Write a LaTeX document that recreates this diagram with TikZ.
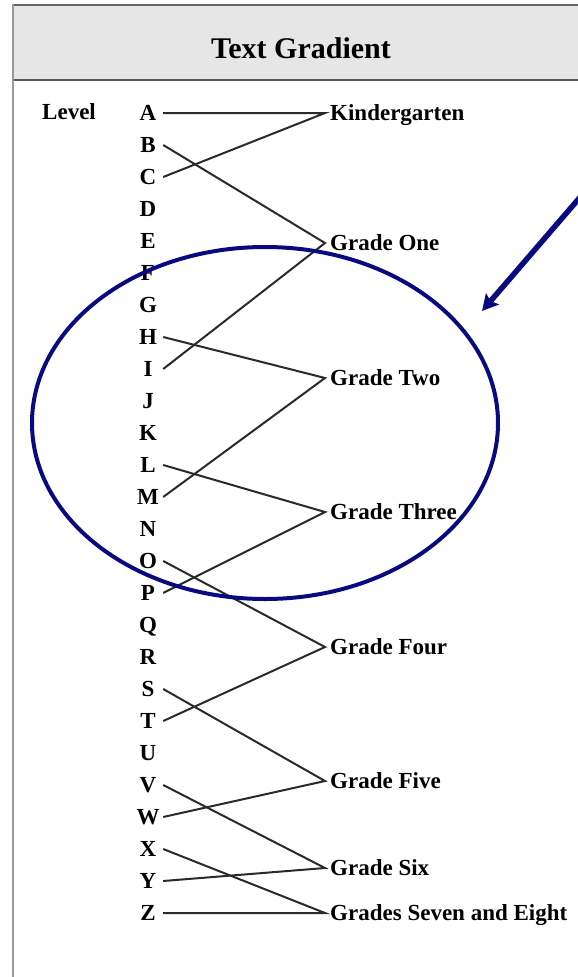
\documentclass[tikz,border=0pt]{standalone}
\usepackage{fontspec}
\setmainfont{Liberation Serif}
\usetikzlibrary{arrows.meta}
\definecolor{navyc}{HTML}{0A0A80}
\definecolor{headfill}{HTML}{E6E6E6}
\definecolor{linec}{HTML}{2A2A2A}
\tikzset{
  letter/.style={font=\fontsize{23}{23}\selectfont\bfseries, inner sep=0pt, minimum width=30pt, text height=15pt, text depth=0pt, anchor=center},
  grade/.style={font=\fontsize{23}{23}\selectfont\bfseries, inner xsep=5pt, inner ysep=0pt, text height=15pt, text depth=0pt, anchor=west},
  conn/.style={draw=linec, line width=2pt},
  frame/.style={line width=2pt},
}
\begin{document}
\begin{tikzpicture}[x=1pt,y=-1pt]
\useasboundingbox (0,0) rectangle (578,977);
% header
\fill[headfill] (13,5) rectangle (578,80);
\draw[frame, draw=black!60] (13,5) -- (578,5);
\draw[frame, draw=black!65] (13,80) -- (578,80);
\draw[line width=2.5pt, draw=black!40] (13,4) -- (13,977);
\node[font=\fontsize{30}{30}\selectfont\bfseries, inner sep=0pt, text height=20pt, text depth=0pt] (title) at (301,48) {Text Gradient};
\node[font=\fontsize{23}{23}\selectfont\bfseries, inner sep=0pt, text height=15pt, text depth=0pt, anchor=west] (level) at (42,112) {Level};
% letters
\foreach \l [count=\i from 0] in {A,B,C,D,E,F,G,H,I,J,K,L,M,N,O,P,Q,R,S,T,U,V,W,X,Y,Z} {
  \node[letter] (\l) at (148,{113+32*\i}) {\l};
}
% grades
\node[grade] (k) at (325,113) {Kindergarten};
\node[grade] (g1) at (325,243) {Grade One};
\node[grade] (g2) at (325,378) {Grade Two};
\node[grade] (g3) at (325,512) {Grade Three};
\node[grade] (g4) at (325,647) {Grade Four};
\node[grade] (g5) at (325,781) {Grade Five};
\node[grade] (g6) at (325,868) {Grade Six};
\node[grade] (g78) at (325,913) {Grades Seven and Eight};
% connectors
\draw[conn] (A.east) -- (k.west) -- (C.east);
\draw[conn] (B.east) -- (g1.west) -- (I.east);
\draw[conn] (H.east) -- (g2.west) -- (M.east);
\draw[conn] (L.east) -- (g3.west) -- (P.east);
\draw[conn] (O.east) -- (g4.west) -- (T.east);
\draw[conn] (S.east) -- (g5.west) -- (W.east);
\draw[conn] (V.east) -- (g6.west) -- (Y.east);
\draw[conn] (X.east) -- (g78.west) -- (Z.east);
% annotation
\draw[navyc, line width=4pt] (265,423) ellipse [x radius=233, y radius=176];
\coordinate (arrowstart) at (582,195);
\coordinate (arrowtip) at (482,311);
\draw[navyc, line width=5.5pt, -{Stealth[length=16pt,width=17pt,inset=3pt]}] (arrowstart) -- (arrowtip);
\end{tikzpicture}
\end{document}
